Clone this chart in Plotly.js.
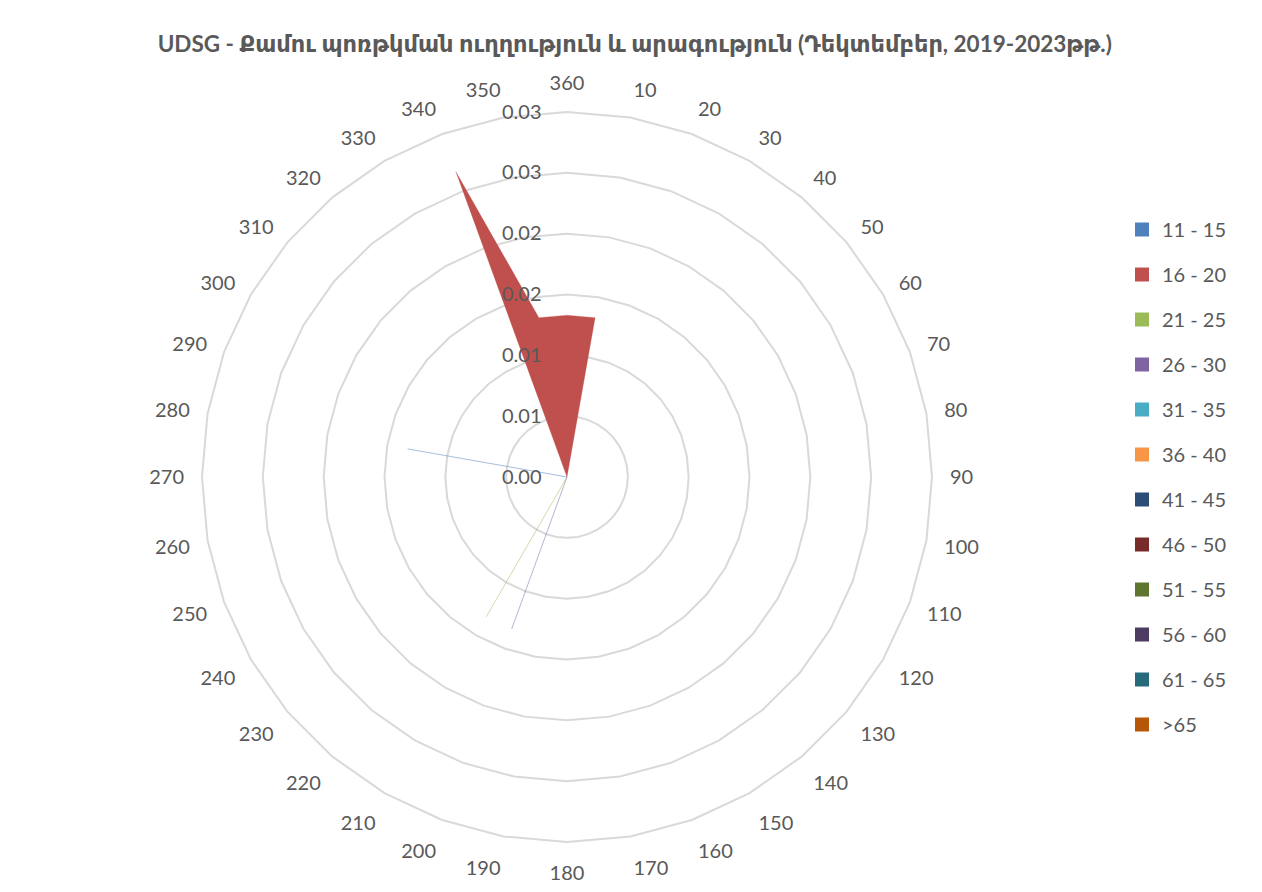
<!DOCTYPE html>
<html>
<head>
<meta charset="utf-8">
<script src="https://cdn.plot.ly/plotly-3.0.1.min.js"></script>
<style>html,body{margin:0;padding:0;background:#fff;}#chart{width:1262px;height:892px;}</style>
</head>
<body>
<div id="chart"></div>
<script>
// Direction categories, clockwise from the top
const directions = ["360","10","20","30","40","50","60","70","80","90","100","110","120","130","140","150","160","170","180","190","200","210","220","230","240","250","260","270","280","290","300","310","320","330","340","350"];

// Speed classes (legend) and their colours
const speedClasses = ["11 - 15","16 - 20","21 - 25","26 - 30","31 - 35","36 - 40","41 - 45","46 - 50","51 - 55","56 - 60","61 - 65",">65"];
const classColors = ["#4F81BD","#C0504D","#9BBB59","#8064A2","#4BACC6","#F79646","#2C4D75","#772C2A","#5F7530","#4D3B62","#276A7C","#B65708"];

// Frequency values per class, in the order of `directions`
const v11_15 = [0,0,0,0,0,0,0,0,0,0,0,0,0,0,0,0,0,0,0,0,0,0,0,0,0,0,0,0,0.0133,0,0,0,0,0,0,0];
const v16_20 = [0.0133,0.0133,0,0,0,0,0,0,0,0,0,0,0,0,0,0,0,0,0,0,0,0,0,0,0,0,0,0,0,0,0,0,0,0,0.0267,0.0133];
const v21_25 = [0,0,0,0,0,0,0,0,0,0,0,0,0,0,0,0,0,0,0,0,0,0.0133,0,0,0,0,0,0,0,0,0,0,0,0,0,0];
const v26_30 = [0,0,0,0,0,0,0,0,0,0,0,0,0,0,0,0,0,0,0,0,0.0133,0,0,0,0,0,0,0,0,0,0,0,0,0,0,0];
const v31_35 = [0,0,0,0,0,0,0,0,0,0,0,0,0,0,0,0,0,0,0,0,0,0,0,0,0,0,0,0,0,0,0,0,0,0,0,0];
const v36_40 = [0,0,0,0,0,0,0,0,0,0,0,0,0,0,0,0,0,0,0,0,0,0,0,0,0,0,0,0,0,0,0,0,0,0,0,0];
const v41_45 = [0,0,0,0,0,0,0,0,0,0,0,0,0,0,0,0,0,0,0,0,0,0,0,0,0,0,0,0,0,0,0,0,0,0,0,0];
const v46_50 = [0,0,0,0,0,0,0,0,0,0,0,0,0,0,0,0,0,0,0,0,0,0,0,0,0,0,0,0,0,0,0,0,0,0,0,0];
const v51_55 = [0,0,0,0,0,0,0,0,0,0,0,0,0,0,0,0,0,0,0,0,0,0,0,0,0,0,0,0,0,0,0,0,0,0,0,0];
const v56_60 = [0,0,0,0,0,0,0,0,0,0,0,0,0,0,0,0,0,0,0,0,0,0,0,0,0,0,0,0,0,0,0,0,0,0,0,0];
const v61_65 = [0,0,0,0,0,0,0,0,0,0,0,0,0,0,0,0,0,0,0,0,0,0,0,0,0,0,0,0,0,0,0,0,0,0,0,0];
const v65up  = [0,0,0,0,0,0,0,0,0,0,0,0,0,0,0,0,0,0,0,0,0,0,0,0,0,0,0,0,0,0,0,0,0,0,0,0];
const seriesValues = [v11_15,v16_20,v21_25,v26_30,v31_35,v36_40,v41_45,v46_50,v51_55,v56_60,v61_65,v65up];

// Radial ticks
const radialTickVals = [0,0.005,0.01,0.015,0.02,0.025,0.03];
const radialTickText = ["0.00","0.01","0.01","0.02","0.02","0.03","0.03"];

const FONT = "Lato, 'DejaVu Sans', sans-serif";
const GREY = "#595959";

function fade(hex, a) {
  const n = parseInt(hex.slice(1), 16);
  return "rgba(" + (n >> 16) + "," + ((n >> 8) & 255) + "," + (n & 255) + "," + a + ")";
}

const traces = [];
seriesValues.forEach((vals, i) => {
  traces.push({
    type: "scatterpolar",
    r: vals.concat([vals[0]]),
    theta: directions.concat([directions[0]]),
    mode: "lines",
    fill: "toself",
    fillcolor: classColors[i],
    line: {color: fade(classColors[i], 0.35), width: 0.8},
    name: speedClasses[i],
    showlegend: false,
    hoverinfo: "skip"
  });
});
// Legend entries (square markers)
speedClasses.forEach((name, i) => {
  traces.push({
    type: "scatterpolar",
    r: [null],
    theta: [null],
    mode: "markers",
    marker: {symbol: "square", size: 14, color: classColors[i]},
    name: name,
    legendgroup: "g" + i,
    showlegend: true,
    hoverinfo: "skip"
  });
});

const layout = {
  width: 1262, height: 892,
  margin: {l: 0, r: 0, t: 0, b: 0},
  paper_bgcolor: "#fff",
  font: {family: FONT, color: GREY, size: 20},
  title: {
    text: "<b>UDSG - Քամու պոռթկման ուղղություն և արագություն (Դեկտեմբեր, 2019-2023թթ.)</b>",
    font: {family: FONT, size: 22.5, color: GREY},
    x: 0.503, xanchor: "center", y: 0.95, yanchor: "middle"
  },
  polar: {
    domain: {x: [202/1262, 932/1262], y: [1 - 842/892, 1 - 112/892]},
    bgcolor: "#fff",
    gridshape: "linear",
    angularaxis: {
      type: "category",
      categoryorder: "array",
      categoryarray: directions,
      rotation: 90,
      direction: "clockwise",
      showgrid: false,
      showline: true,
      linecolor: "#d9d9d9",
      linewidth: 2,
      ticks: "outside",
      ticklen: 13,
      tickcolor: "rgba(0,0,0,0)",
      tickfont: {family: FONT, size: 20, color: GREY}
    },
    radialaxis: {
      range: [0, 0.03],
      angle: 90,
      side: "counterclockwise",
      tickangle: 90,
      tickvals: radialTickVals,
      ticktext: radialTickText,
      showline: false,
      ticks: "outside",
      ticklen: 18,
      tickcolor: "rgba(0,0,0,0)",
      gridcolor: "#d9d9d9",
      gridwidth: 2,
      tickfont: {family: FONT, size: 20, color: GREY}
    }
  },
  legend: {
    x: 1122/1262, xanchor: "left",
    y: 1 - 210/892, yanchor: "top",
    tracegroupgap: 16,
    font: {family: FONT, size: 20, color: GREY},
    bgcolor: "rgba(0,0,0,0)"
  },
  showlegend: true
};

Plotly.newPlot("chart", traces, layout, {displayModeBar: false, staticPlot: true});
</script>
</body>
</html>
